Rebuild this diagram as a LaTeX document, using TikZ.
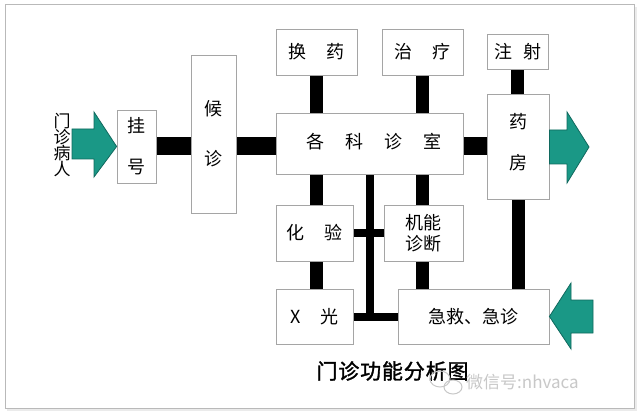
\documentclass[tikz,border=0pt]{standalone}
\usepackage{fontspec}
\setmainfont{Noto Sans CJK SC}
\newfontfamily\titlefont[FakeBold=1.5,LetterSpace=4]{Noto Sans CJK SC}
\usetikzlibrary{calc}
\definecolor{boxgray}{RGB}{165,165,165}
\definecolor{framegray}{RGB}{185,185,185}
\definecolor{teal1}{RGB}{26,152,134}
\definecolor{teal2}{RGB}{16,105,94}
\definecolor{wm}{RGB}{200,200,200}
\pgfdeclarelayer{back}
\pgfdeclarelayer{bg}
\pgfsetlayers{back,bg,main}
\begin{document}
\begin{tikzpicture}[x=1pt,y=-1pt,
  box/.style={draw=boxgray, line width=0.8pt, fill=white, inner sep=0pt, align=center,
    font=\fontsize{18}{18}\selectfont},
  hbar/.style={line width=18pt, draw=black},
  vbar/.style={line width=13pt, draw=black},
  tbar/.style={line width=8pt, draw=black, line cap=rect},
  arrowshape/.style={fill=teal1, draw=teal2, line width=0.8pt, line join=miter}]
\useasboundingbox (0,0) rectangle (640,414);
% frame
\begin{pgfonlayer}{back}
\fill[white] (0,0) rectangle (640,414);
\draw[draw=none, fill=black!8] (7,7) rectangle (637,411);
\draw[draw=framegray, line width=1pt, fill=white] (5,5) rectangle (634,408);
\end{pgfonlayer}

% boxes
\node[box, minimum width=39pt, minimum height=73pt] (gh) at (136.5,146.5) {挂\\[23pt]号};
\node[box, minimum width=45pt, minimum height=158pt] (hz) at (213.5,134) {候\\[32pt]诊};
\node[box, minimum width=81pt, minimum height=46pt] (hy) at (316.5,52) {换\hspace{21pt}药};
\node[box, minimum width=81pt, minimum height=46pt] (zl) at (422.5,52) {治\hspace{20pt}疗};
\node[box, minimum width=61pt, minimum height=35pt] (zs) at (517.5,51.5) {注\hspace{11pt}射};
\node[box, minimum width=187pt, minimum height=61pt] (ks) at (369.5,143.5) {};
\node[font=\fontsize{18}{18}\selectfont, inner sep=0pt] (kst) at ($(ks.center)+(4.5,-2)$) {各\hspace{21pt}科\hspace{21pt}诊\hspace{21pt}室};
\node[box, minimum width=62pt, minimum height=105pt] (yf) at (518,146.5) {};
\node[font=\fontsize{18}{18}\selectfont, inner sep=0pt, align=center] (yft) at ($(yf.center)+(0,-4)$) {药\\[23pt]房};
\node[box, minimum width=77pt, minimum height=56pt] (hyan) at (314.5,233) {化\hspace{20pt}验};
\node[box, minimum width=79pt, minimum height=56pt, font=\fontsize{18}{21}\selectfont] (jn) at (423.5,233) {机能\\诊断};
\node[box, minimum width=77pt, minimum height=55pt] (xg) at (314.5,316.5) {X\hspace{19pt}光};
\node[box, minimum width=151pt, minimum height=55pt] (jj) at (473.5,316.5) {急救、急诊};

% connectors
\begin{pgfonlayer}{bg}
\draw[hbar] (gh.east) -- (gh.east -| hz.west);
\draw[hbar] (hz.east |- gh.east) -- (ks.west |- gh.east);
\draw[hbar] (ks.east |- gh.east) -- (yf.west |- gh.east);
\draw[vbar] (hy.south) -- (hy.south |- ks.north);
\draw[vbar] (zl.south) -- (zl.south |- ks.north);
\draw[vbar] (zs.south) -- (zs.south |- yf.north);
\draw[vbar] (hy.south |- ks.south) -- (hy.south |- hyan.north);
\draw[vbar] (hy.south |- hyan.south) -- (hy.south |- xg.north);
\draw[vbar] (zl.south |- ks.south) -- (zl.south |- jn.north);
\draw[vbar] (zl.south |- jn.south) -- (zl.south |- jj.north);
\draw[vbar] (yf.south) -- (yf.south |- jj.north);
\draw[tbar] (ks.south) -- (ks.south |- xg.east);
\draw[tbar] (xg.east) -- (xg.east -| jj.west);
\draw[tbar] (hyan.east) -- (hyan.east -| jn.west);
\end{pgfonlayer}

% arrows
\draw[arrowshape] (72,129) -- (94,129) -- (94,112) -- (gh.west) -- (94,177) -- (94,159) -- (72,159) -- cycle;
\draw[arrowshape] (yf.east |- 0,130) -- (567,130) -- (567,112) -- (589,147) -- (567,183) -- (567,164) -- (yf.east |- 0,164) -- cycle;
\draw[arrowshape] (593,300) -- (571,300) -- (571,283) -- (jj.east) -- (571,349) -- (571,333) -- (593,333) -- cycle;

% texts
\node[align=center, inner sep=0pt, font=\fontsize{17}{16}\selectfont] (mz) at (62,145) {门\\诊\\病\\人};
\node[inner sep=0pt, font=\fontsize{21}{21}\titlefont] (title) at (392.5,371) {门诊功能分析图};
% watermark
\draw[wm, line width=1pt] (440,379) ellipse [x radius=10pt, y radius=8pt];
\draw[wm, line width=1pt] (453,387) ellipse [x radius=9pt, y radius=7pt];
\node[anchor=west, inner sep=0pt, text=wm, font=\fontsize{17}{17}\selectfont] (wmt) at (466,382) {微信号:nhvaca};
\end{tikzpicture}
\end{document}
